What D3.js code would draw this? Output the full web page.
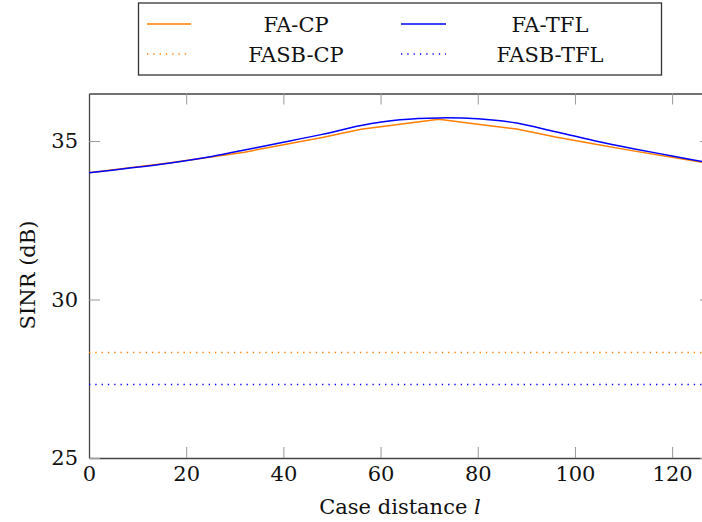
<!DOCTYPE html>
<html>
<head>
<meta charset="utf-8">
<script src="https://cdn.jsdelivr.net/npm/d3@7"></script>
<style>
  body { margin: 0; background: #fff; }
  svg text { font-family: "DejaVu Serif" !important; }
</style>
</head>
<body>
<div id="chart"></div>
<script>
// case distance l
var distances = [0, 8, 16, 24, 32, 40, 48, 56, 64, 72, 80, 88, 96, 104, 112, 120, 128];
var faCP  = [34.00, 34.15, 34.30, 34.47, 34.65, 34.88, 35.11, 35.37, 35.53, 35.69, 35.53, 35.38, 35.13, 34.91, 34.69, 34.49, 34.28];
var faTFL = [34.00, 34.14, 34.29, 34.48, 34.72, 34.96, 35.21, 35.49, 35.67, 35.73, 35.70, 35.57, 35.29, 35.01, 34.76, 34.53, 34.30];
// baselines (constant)
var fasbCP = 28.33;
var fasbTFL = 27.32;
var xTicks = [0, 20, 40, 60, 80, 100, 120];
var yTicks = [25, 30, 35];

var width = 702,
    height = 522;

var x = d3.scaleLinear().domain([0, 128]).range([89, 711]);
var y = d3.scaleLinear().domain([25, 36.5]).range([458, 93.5]);

var svg = d3.select("#chart").append("svg")
  .attr("width", width)
  .attr("height", height);

var series = [
  {name: "FA-CP", color: "#ff7f00", dash: null, curve: d3.curveLinear,
   values: distances.map(function(d, i) { return [d, faCP[i]]; })},
  {name: "FA-TFL", color: "#0000ff", dash: null, curve: d3.curveCatmullRom.alpha(0.5),
   values: distances.map(function(d, i) { return [d, faTFL[i]]; })},
  {name: "FASB-CP", color: "#ff7f00", dash: "1.3,5", curve: d3.curveLinear,
   values: [[0, fasbCP], [128, fasbCP]]},
  {name: "FASB-TFL", color: "#0000ff", dash: "1.3,5", curve: d3.curveLinear,
   values: [[0, fasbTFL], [128, fasbTFL]]}
];

// axes, ticks point inward like pgfplots
function styleAxis(g) {
  g.attr("font-family", null);
  g.select(".domain").attr("stroke", "#444").attr("stroke-width", 1.3);
  g.selectAll(".tick line").attr("stroke", "#999").attr("stroke-width", 1);
  g.selectAll(".tick text").attr("fill", "#111").style("font-size", "21px");
}

svg.append("g")
  .attr("transform", "translate(0," + y(25) + ")")
  .call(d3.axisBottom(x).tickValues(xTicks).tickSize(-11).tickSizeOuter(0).tickPadding(8))
  .call(styleAxis);

svg.append("g")
  .attr("transform", "translate(0," + y(36.5) + ")")
  .call(d3.axisTop(x).tickValues(xTicks).tickSize(-11).tickSizeOuter(0).tickFormat(""))
  .call(styleAxis);

svg.append("g")
  .attr("transform", "translate(" + x(0) + ",0)")
  .call(d3.axisLeft(y).tickValues(yTicks).tickSize(-11).tickSizeOuter(0).tickPadding(11))
  .call(styleAxis);

svg.append("g")
  .attr("transform", "translate(" + x(128) + ",0)")
  .call(d3.axisRight(y).tickValues(yTicks).tickSize(-11).tickSizeOuter(0).tickFormat(""))
  .call(styleAxis);

// lines
var line = d3.line()
  .x(function(d) { return x(d[0]); })
  .y(function(d) { return y(d[1]); });

series.forEach(function(s) {
  svg.append("path")
    .datum(s.values)
    .attr("fill", "none")
    .attr("stroke", s.color)
    .attr("stroke-width", 1.5)
    .attr("stroke-dasharray", s.dash)
    .attr("d", line.curve(s.curve));
});

// axis labels
svg.append("text")
  .attr("x", 400)
  .attr("y", 514)
  .attr("text-anchor", "middle")
  .style("font-size", "21px")
  .attr("fill", "#111")
  .text("Case distance ")
  .append("tspan")
  .style("font-style", "italic")
  .text("l");

svg.append("text")
  .attr("transform", "translate(35,275) rotate(-90)")
  .attr("text-anchor", "middle")
  .style("font-size", "21px")
  .attr("fill", "#111")
  .text("SINR (dB)");

// legend
var legend = svg.append("g");
legend.append("rect")
  .attr("x", 138.5).attr("y", 3)
  .attr("width", 523).attr("height", 72)
  .attr("fill", "#fff")
  .attr("stroke", "#333")
  .attr("stroke-width", 1.3);

var cols = [{x0: 147, x1: 191, tx: 296}, {x0: 401, x1: 446, tx: 550}];
var rows = [24, 54];

series.forEach(function(s, i) {
  var c = cols[i % 2], r = rows[Math.floor(i / 2)];
  legend.append("line")
    .attr("x1", c.x0).attr("x2", c.x1)
    .attr("y1", r).attr("y2", r)
    .attr("stroke", s.color)
    .attr("stroke-width", 1.5)
    .attr("stroke-dasharray", s.dash);
  legend.append("text")
    .attr("x", c.tx)
    .attr("y", r + 8)
    .attr("text-anchor", "middle")
    .style("font-size", "21px")
    .attr("fill", "#111")
    .text(s.name);
});
</script>
</body>
</html>
